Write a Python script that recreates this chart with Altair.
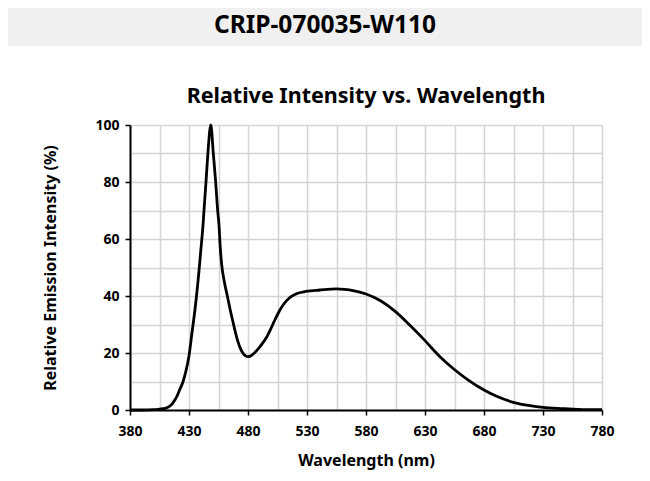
import altair as alt
import pandas as pd

wavelength = [380, 390, 400, 405, 410, 415, 418, 420, 422, 425, 427, 430, 432.5, 435, 436,
              438.5, 440, 441.9, 442.7, 444.4, 446, 448.5, 450.6, 452.6, 454.3, 455.4, 456.5,
              457.7, 459.7, 462.5, 465, 467.5, 471, 474, 476, 478, 480, 482, 485, 489, 493, 496,
              499, 502, 506, 510, 515, 521, 529, 541, 555, 562, 569, 580, 592, 605, 617, 629.4,
              642.7, 654.6, 666.7, 680, 690.7, 704.8, 719, 730, 747, 760, 780]
intensity = [0, 0, 0.1, 0.3, 0.6, 1.8, 3.5, 5, 7, 10, 13, 19, 27, 35, 38.6,
             49, 56, 65, 70, 80, 90, 100, 90, 80, 70, 65, 57,
             51, 45.5, 40, 35, 30.5, 24.6, 21.2, 19.8, 19.0, 18.7, 18.9, 19.8, 21.6, 23.8, 25.7,
             28.2, 30.9, 34.3, 37.0, 39.3, 40.8, 41.6, 42.1, 42.5, 42.3, 41.9, 40.7, 38.4, 34.5, 29.8, 24.6,
             18.7, 14.3, 10.5, 7.0, 4.8, 2.7, 1.5, 0.9, 0.5, 0.25, 0.1]

x_grid_values = list(range(380, 781, 25))
y_grid_values = list(range(0, 101, 10))

header_text = "CRIP-070035-W110"
chart_title = "Relative Intensity vs. Wavelength"
x_title = "Wavelength (nm)"
y_title = "Relative Emission Intensity (%)"

FONT = "Noto Sans"
PW, PH = 472, 285
PAD = {"left": 122, "top": 117, "right": 40, "bottom": 60}

df = pd.DataFrame({"wl": wavelength, "ri": intensity})

x_axis = alt.Axis(
    values=x_grid_values,
    labelExpr="(datum.value - 380) % 50 === 0 ? datum.label : ''",
    tickOpacity={"condition": {"test": "(datum.value - 380) % 50 === 0", "value": 1}, "value": 0},
    grid=True, gridColor="#d4d4d4", gridWidth=1.5,
    domainColor="black", domainWidth=2,
    tickColor="black", tickWidth=1.5, tickSize=5,
    labelFont=FONT, labelFontSize=14, labelFontWeight="bold", labelColor="black",
    labelPadding=9, labelFlush=False,
    title=x_title, titleFont=FONT, titleFontSize=16, titleFontWeight="bold",
    titleColor="black", titlePadding=14,
)
y_axis = alt.Axis(
    values=y_grid_values,
    labelExpr="datum.value % 20 === 0 ? datum.label : ''",
    tickOpacity={"condition": {"test": "datum.value % 20 === 0", "value": 1}, "value": 0},
    grid=True, gridColor="#d4d4d4", gridWidth=1.5,
    domainColor="black", domainWidth=2,
    tickColor="black", tickWidth=1.5, tickSize=5,
    labelFont=FONT, labelFontSize=14, labelFontWeight="bold", labelColor="black",
    labelPadding=6, labelFlush=False,
    title=y_title, titleFont=FONT, titleFontSize=16, titleFontWeight="bold",
    titleColor="black", titlePadding=36,
)

line = alt.Chart(df).mark_line(
    color="black", strokeWidth=2.8, interpolate="monotone"
).encode(
    x=alt.X("wl:Q", scale=alt.Scale(domain=[380, 780], nice=False, zero=False), axis=x_axis),
    y=alt.Y("ri:Q", scale=alt.Scale(domain=[0, 100], nice=False), axis=y_axis),
)

hdr = pd.DataFrame({"t": [header_text]})
header_bg = alt.Chart(hdr).mark_rect(color="#f0f0f0").encode(
    x=alt.value(-PAD["left"]), x2=alt.value(PW + PAD["right"]),
    y=alt.value(-PAD["top"]), y2=alt.value(-PAD["top"] + 38),
)
header = alt.Chart(hdr).mark_text(
    font=FONT, fontSize=24.5, fontWeight="bold", color="black",
    align="center", baseline="middle",
).encode(
    x=alt.value(325 - 8 - PAD["left"]), y=alt.value(26 - 8 - PAD["top"]),
    text="t:N",
)

ttl = pd.DataFrame({"t": [chart_title]})
title = alt.Chart(ttl).mark_text(
    font=FONT, fontSize=21.5, fontWeight="bold", color="black",
    align="center", baseline="alphabetic",
).encode(
    x=alt.value(PW / 2), y=alt.value(-22), text="t:N",
)

chart = alt.layer(header_bg, header, title, line).properties(
    width=PW, height=PH, padding=PAD, autosize="none", background="white",
).configure_view(stroke=None)

chart.save("out.html", embed_options={"renderer": "svg", "actions": False})
